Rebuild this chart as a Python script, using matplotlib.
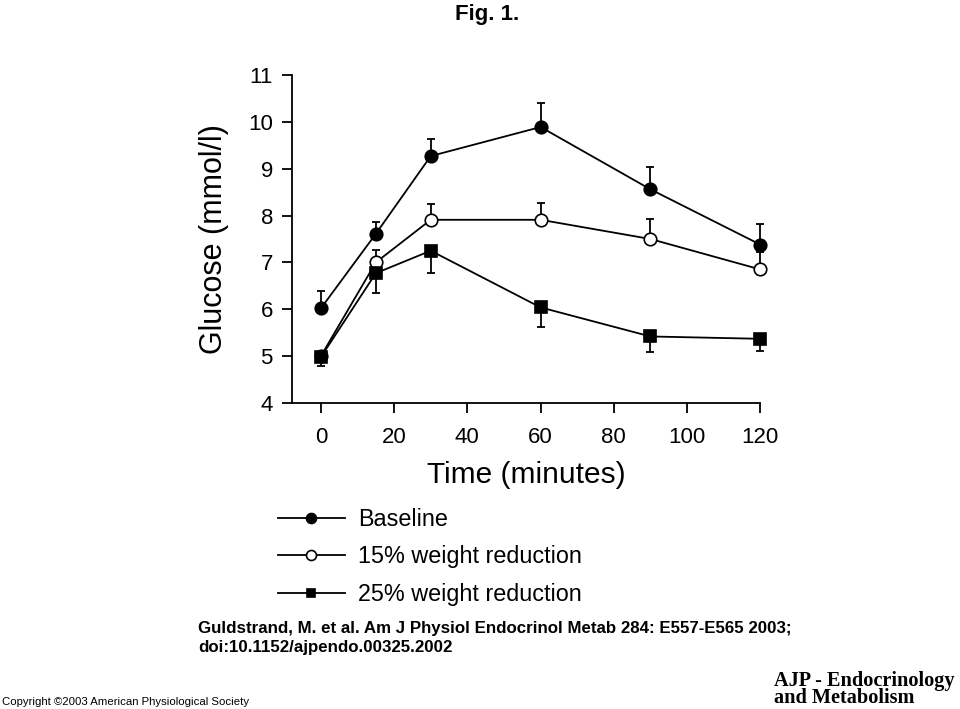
import numpy as np
import matplotlib.pyplot as plt

plt.rcParams['font.family'] = ['Liberation Sans', 'DejaVu Sans']

# data
time_min = [0, 15, 30, 60, 90, 120]
baseline = [6.02, 7.61, 9.27, 9.89, 8.56, 7.38]
baseline_err = [0.36, 0.25, 0.37, 0.52, 0.47, 0.45]
red15 = [5.0, 7.0, 7.91, 7.91, 7.50, 6.85]
red15_err = [0.0, 0.26, 0.33, 0.36, 0.42, 0.37]
red25 = [4.98, 6.77, 7.25, 6.04, 5.42, 5.37]
red25_err = [0.18, 0.42, 0.48, 0.42, 0.33, 0.25]

xticks = [0, 20, 40, 60, 80, 100, 120]
yticks = [4, 5, 6, 7, 8, 9, 10, 11]

fig = plt.figure(figsize=(9.6, 7.09), dpi=100)
ax = fig.add_axes([0.3045, 0.4316, 0.4875, 0.4626])

zeros = np.zeros(len(time_min))
eb_kw = dict(fmt='none', ecolor='black', elinewidth=1.3, capsize=2.6,
             capthick=1.3, zorder=2, clip_on=False)
ax.errorbar(time_min, baseline, yerr=[zeros, baseline_err], **eb_kw)
ax.errorbar(time_min, red15, yerr=[zeros, red15_err], **eb_kw)
ax.errorbar(time_min, red25, yerr=[red25_err, zeros], **eb_kw)

l1, = ax.plot(time_min, baseline, '-o', color='black', mfc='black', mec='black',
              ms=9, lw=1.3, mew=1.2, zorder=3, clip_on=False, label='Baseline')
l2, = ax.plot(time_min, red15, '-o', color='black', mfc='white', mec='black',
              ms=9, lw=1.3, mew=1.2, zorder=3, clip_on=False, label='15% weight reduction')
l3, = ax.plot(time_min, red25, '-s', color='black', mfc='black', mec='black',
              ms=8, lw=1.3, mew=1.2, zorder=3, clip_on=False, label='25% weight reduction')

ax.set_xlim(-7.8, 120)
ax.set_ylim(4, 11)
ax.set_xticks(xticks)
ax.set_yticks(yticks)
ax.spines['top'].set_visible(False)
ax.spines['right'].set_visible(False)
for s in ['left', 'bottom']:
    ax.spines[s].set_linewidth(1.3)
ax.tick_params(direction='out', length=7, width=1.3, labelsize=16, pad=7)
ax.tick_params(axis='x', pad=10)
ax.set_xlabel('Time (minutes)', fontsize=21.5, labelpad=10)
ax.set_ylabel('Glucose (mmol/l)', fontsize=22, labelpad=14)

leg = fig.legend(handles=[l1, l2, l3], loc='upper left', bbox_to_anchor=(0.277, 0.3),
                 frameon=False, fontsize=16.8, handlelength=2.9, handletextpad=0.55,
                 labelspacing=0.62, borderpad=0, markerscale=0.8)

fig.text(0.507, 0.995, 'Fig. 1.', ha='center', va='top', fontsize=16, fontweight='bold')
fig.text(0.206, 0.1, 'Guldstrand, M. et al. Am J Physiol Endocrinol Metab 284: E557-E565 2003;\n'
         'doi:10.1152/ajpendo.00325.2002', ha='left', va='center', fontsize=12.2,
         fontweight='bold', linespacing=1.35)
fig.text(0.002, 0.003, 'Copyright \u00a92003 American Physiological Society', ha='left',
         va='bottom', fontsize=8.2)
fig.text(0.806, 0.001, 'AJP - Endocrinology\nand Metabolism', ha='left', va='bottom',
         fontsize=14.6, fontweight='bold', family='Liberation Serif', linespacing=0.82)

fig.savefig('out.png', dpi=100)
